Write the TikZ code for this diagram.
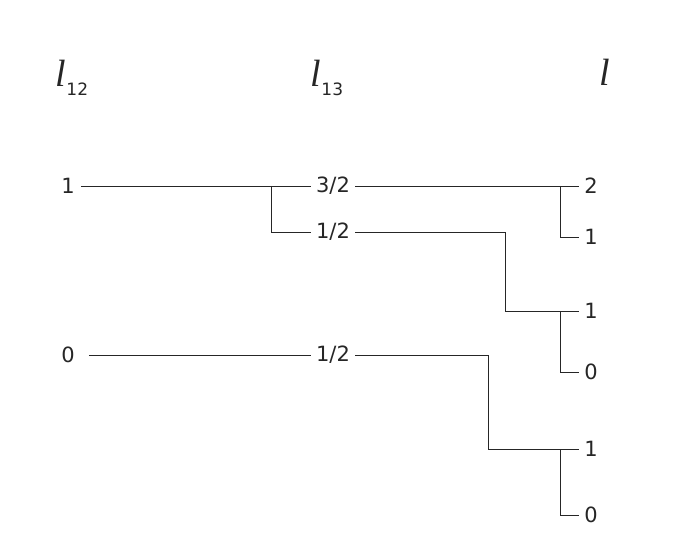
\documentclass[tikz,border=0pt]{standalone}
\usepackage{fontspec}
\setmainfont{DejaVu Sans}
\newfontfamily\serifit{Liberation Serif}
\begin{document}
\begin{tikzpicture}[x=1pt,y=-1pt,
  lab/.style={font=\fontsize{21}{24}\selectfont,inner sep=0pt,text=black!85},
  hd/.style={inner sep=0pt,text=black!85},
  ln/.style={line width=0.8pt,draw=black!85}]
\useasboundingbox (0,0) rectangle (690,548);
\node[hd] (h1) at (72,78) {{\serifit\itshape\fontsize{38}{40}\selectfont l}\raisebox{-9pt}{\fontsize{17}{18}\selectfont 12}};
\node[hd] (h2) at (327,78) {{\serifit\itshape\fontsize{38}{40}\selectfont l}\raisebox{-9pt}{\fontsize{17}{18}\selectfont 13}};
\node[hd] (h3) at (605,72) {{\serifit\itshape\fontsize{38}{40}\selectfont l}};
\node[lab] (a1) at (68,186) {1};
\node[lab] (a0) at (68,355) {0};
\node[lab] (b1) at (333,186) {3/2};
\node[lab] (b2) at (333,232) {1/2};
\node[lab] (b3) at (333,355) {1/2};
\node[lab] (c1) at (591,186) {2};
\node[lab] (c2) at (591,237) {1};
\node[lab] (c3) at (591,311) {1};
\node[lab] (c4) at (591,372) {0};
\node[lab] (c5) at (591,449) {1};
\node[lab] (c6) at (591,515) {0};
\coordinate (j1) at (271,186);
\coordinate (j2) at (560,186);
\coordinate (j3) at (505,232);
\coordinate (j4) at (560,311);
\coordinate (j5) at (488,355);
\coordinate (j6) at (560,449);
\draw[ln] ([xshift=6pt]a1.east) -- ([xshift=-5pt]b1.west);
\draw[ln] (j1) |- ([xshift=-5pt]b2.west);
\draw[ln] ([xshift=5pt]b1.east) -- ([xshift=-5pt]c1.west);
\draw[ln] (j2) |- ([xshift=-5pt]c2.west);
\draw[ln] ([xshift=5pt]b2.east) -| (j3) |- ([xshift=-5pt]c3.west);
\draw[ln] (j4) |- ([xshift=-5pt]c4.west);
\draw[ln] ([xshift=14pt]a0.east) -- ([xshift=-5pt]b3.west);
\draw[ln] ([xshift=5pt]b3.east) -| (j5) |- ([xshift=-5pt]c5.west);
\draw[ln] (j6) |- ([xshift=-5pt]c6.west);
\end{tikzpicture}
\end{document}
